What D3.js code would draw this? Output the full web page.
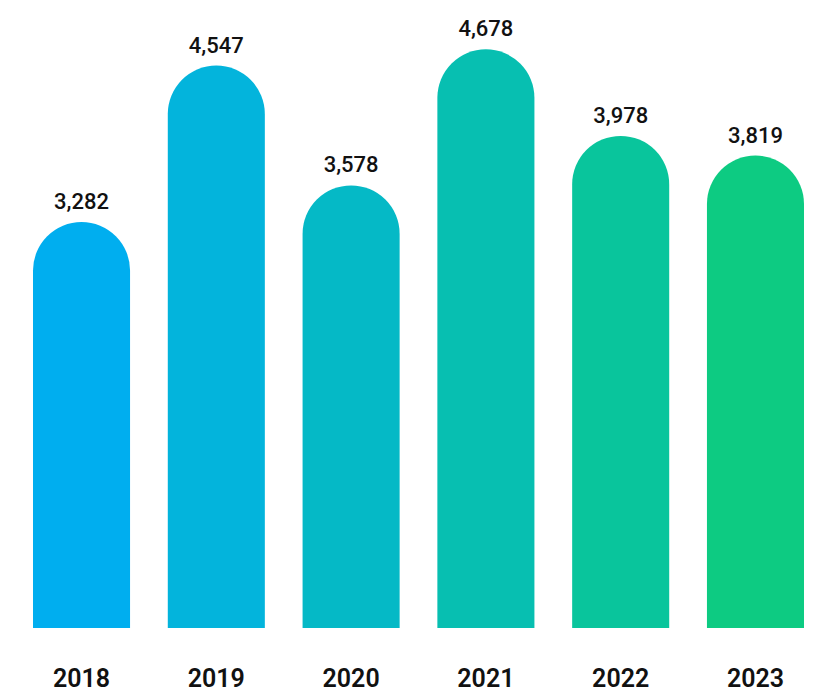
<!DOCTYPE html>
<html><head><meta charset="utf-8">
<script src="https://cdn.jsdelivr.net/npm/d3@7"></script>
<style>html,body{margin:0;padding:0;background:#fff;}</style>
</head><body>
<svg id="c" width="837" height="694"></svg>
<script>
const years = ["2018","2019","2020","2021","2022","2023"];
const values = [3282, 4547, 3578, 4678, 3978, 3819];
const colors = ["#00AEEF","#03B4DC","#05B9C6","#07BFB1","#09C59C","#0DCB82"];

const svg = d3.select("#c");
const x = d3.scaleBand().domain(years).range([33, 804]).paddingInner(0.28).paddingOuter(0);
const y = d3.scaleLinear().domain([0, 4678]).range([628, 49.3]);
const fmt = d3.format(",");

function barPath(d, i) {
  const x0 = x(years[i]), w = x.bandwidth(), r = w / 2;
  const yt = y(d), yb = y(0);
  return `M${x0},${yb} L${x0},${yt + r} A${r},${r} 0 0 1 ${x0 + w},${yt + r} L${x0 + w},${yb} Z`;
}

svg.selectAll("path.bar").data(values).join("path")
  .attr("class","bar")
  .attr("d", barPath)
  .attr("fill", (d,i) => colors[i]);

svg.selectAll("text.val").data(values).join("text")
  .attr("class","val")
  .attr("x", (d,i) => x(years[i]) + x.bandwidth()/2)
  .attr("y", d => y(d) - 13)
  .attr("text-anchor","middle")
  .attr("font-family","Roboto, sans-serif")
  .attr("font-weight", 500)
  .attr("font-size", 22)
  .attr("fill","#111")
  .text(d => fmt(d));

svg.selectAll("text.yr").data(years).join("text")
  .attr("class","yr")
  .attr("x", d => x(d) + x.bandwidth()/2)
  .attr("y", 687)
  .attr("text-anchor","middle")
  .attr("font-family","Roboto, sans-serif")
  .attr("font-weight", 600)
  .attr("font-size", 25)
  .attr("fill","#111")
  .text(d => d);
</script>
</body></html>
